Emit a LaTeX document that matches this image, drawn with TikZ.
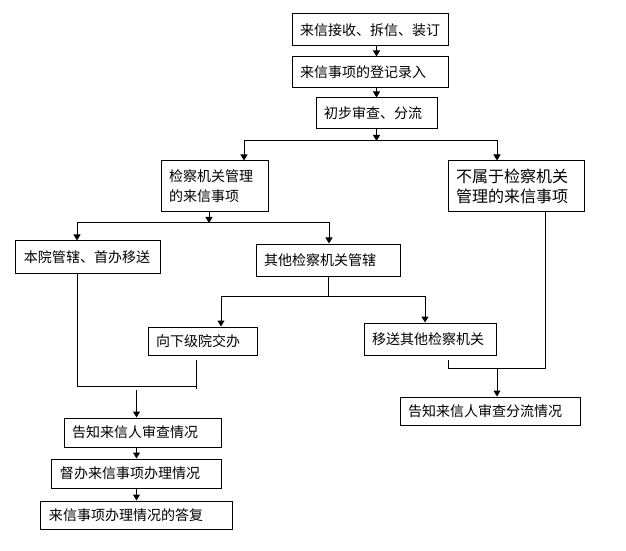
\documentclass[tikz,border=0pt]{standalone}
\usepackage{fontspec}
\setmainfont{Noto Sans CJK SC}
\usetikzlibrary{arrows.meta, calc}
\newcommand{\flowfont}{\fontsize{14bp}{20bp}\selectfont}
\newcommand{\bigflowfont}{\fontsize{16bp}{20bp}\selectfont}
\tikzset{
  flowbox/.style 2 args={rectangle, draw=black, line width=1bp,
    inner xsep=8bp, inner ysep=0pt, text width=#1, minimum height=#2,
    align=left, font=\flowfont},
  arrow/.style={-{Triangle[width=7bp,length=6bp]}, line width=1bp, color=black},
  line/.style={line width=1bp, color=black}
}

\begin{document}
\begin{tikzpicture}[x=1bp, y=-1bp]
  \useasboundingbox (0,0) rectangle (626,551);

  % main column
  \node[flowbox={140bp}{32bp}] (b1) at (370,30) {来信接收、拆信、装订};
  \node[flowbox={140bp}{31bp}] (b2) at (370,72.5) {来信事项的登记录入};
  \node[flowbox={105bp}{31bp}] (b3) at (376.5,113.5) {初步审查、分流};

  % first split
  \node[flowbox={91bp}{51bp}] (mgmt) at (214.5,186.5) {检察机关管理\\的来信事项};
  \node[flowbox={120bp}{51bp}, font=\bigflowfont] (nonmgmt) at (516,186.5) {不属于检察机关\\管理的来信事项};

  % second split
  \node[flowbox={128bp}{32bp}] (local) at (88,257) {本院管辖、首办移送};
  \node[flowbox={128bp}{32bp}] (other) at (328,260) {其他检察机关管辖};
  \node[flowbox={93bp}{28bp}] (lower) at (202.5,341) {向下级院交办};
  \node[flowbox={116bp}{32bp}] (transfer) at (430,339) {移送其他检察机关};

  % results
  \node[flowbox={164bp}{28bp}] (notify2) at (490,411) {告知来信人审查分流情况};
  \node[flowbox={141bp}{29bp}] (notify1) at (142.5,432.5) {告知来信人审查情况};
  \node[flowbox={153bp}{29bp}] (supervise) at (136.5,473.5) {督办来信事项办理情况};
  \node[flowbox={175bp}{28bp}] (reply) at (136.5,515) {来信事项办理情况的答复};

  \coordinate (split1) at (376.5,141);
  \coordinate (split2) at (209,223);
  \coordinate (split3) at (328,296);
  \coordinate (mergeL) at (196,386);
  \coordinate (mergeR) at (448,368);
  \coordinate (outL) at (136.5,390);
  \coordinate (outR) at (497,368);

  \draw[arrow] (b1.south -| b3) -- (b2.north -| b3);
  \draw[arrow] (b2.south -| b3) -- (b3.north);
  \draw[arrow] (b3.south) -- (split1);
  \draw[arrow] (split1) -| ([xshift=29.5bp]mgmt.north);
  \draw[arrow] (split1) -| ([xshift=-19bp]nonmgmt.north);

  \draw[arrow] (mgmt.south -| split2) -- (split2);
  \draw[arrow] (split2) -| ([xshift=-11bp]local.north);
  \draw[arrow] (split2) -| ([xshift=1bp]other.north);

  \draw[line] (other.south) -- (split3);
  \draw[arrow] (split3) -| ([xshift=18.5bp]lower.north);
  \draw[arrow] (split3) -| ([xshift=-5bp]transfer.north);

  % merge to the left
  \draw[line] ([xshift=-11bp]local.south) |- (mergeL);
  \draw[line] ([yshift=-4bp]lower.south -| mergeL) -- ([yshift=-3bp]mergeL);
  \draw[arrow] (outL) -- (notify1.north -| outL);
  \draw[arrow] (notify1.south -| outL) -- (supervise.north);
  \draw[arrow] (supervise.south) -- (reply.north);

  % merge to the right
  \draw[line] ([xshift=29bp]nonmgmt.south) |- (mergeR) -- ([yshift=-4bp]transfer.south -| mergeR);
  \draw[arrow] (outR) -- (notify2.north -| outR);
\end{tikzpicture}
\end{document}
